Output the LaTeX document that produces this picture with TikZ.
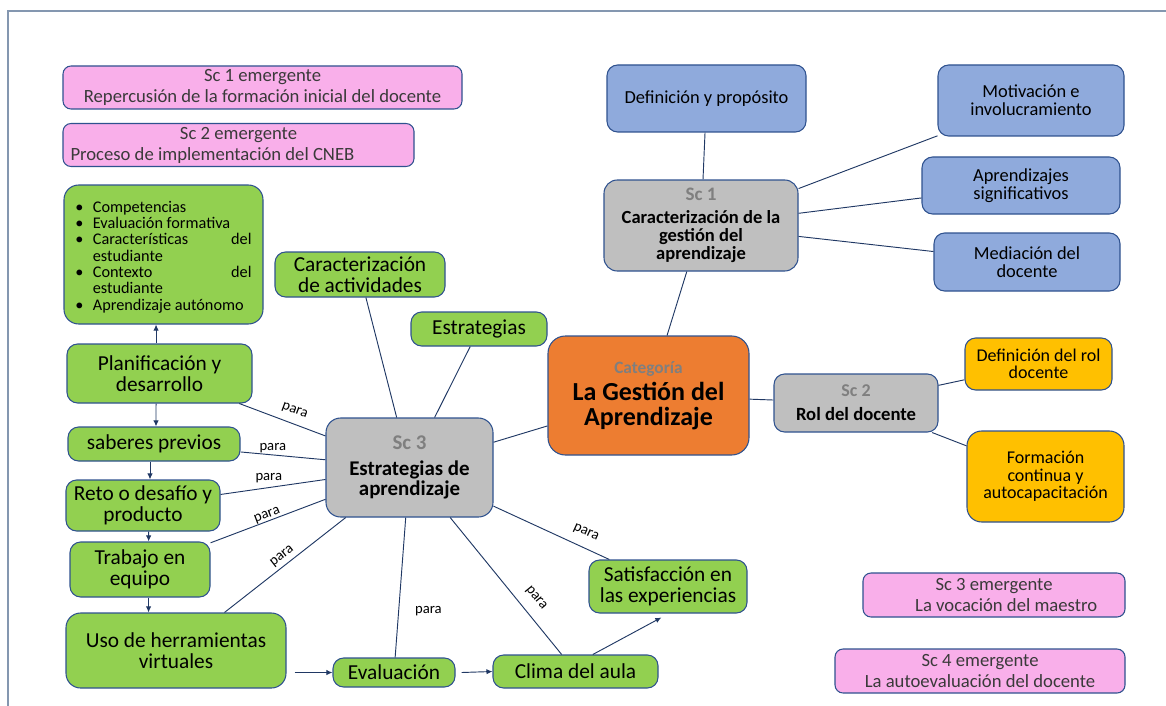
\documentclass[tikz,border=0pt]{standalone}
\usepackage{fontspec}
\setmainfont{Carlito}
\usepackage{enumitem}
\usetikzlibrary{arrows.meta}
\definecolor{boxline}{HTML}{2F528F}
\definecolor{linknavy}{HTML}{203864}
\definecolor{cgreen}{HTML}{92D050}
\definecolor{cblue}{HTML}{8FAADC}
\definecolor{cgray}{HTML}{BFBFBF}
\definecolor{corange}{HTML}{ED7D31}
\definecolor{cgold}{HTML}{FFC000}
\definecolor{cpink}{HTML}{F9AFEA}
\definecolor{sctext}{HTML}{7F7F7F}
\definecolor{pinktext}{HTML}{3A3A3A}
\definecolor{framecol}{HTML}{8497B0}

\begin{document}
\begin{tikzpicture}[x=0.75pt,y=-0.75pt,
mapbox/.style={draw=boxline,line width=0.8pt,rounded corners=8pt,inner sep=2pt,align=center},
sz/.style 2 args={minimum width=#1*0.75pt,minimum height=#2*0.75pt},
grnbox/.style={mapbox,fill=cgreen,font=\fontsize{16}{16}\selectfont},
bluebox/.style={mapbox,fill=cblue,font=\fontsize{13.8}{13.5}\selectfont},
goldbox/.style={mapbox,fill=cgold,font=\fontsize{13.5}{13.2}\selectfont},
pinkbox/.style={mapbox,fill=cpink,rounded corners=6pt,text=pinktext,font=\fontsize{14}{15.75}\selectfont},
graybox/.style={mapbox,fill=cgray},
link/.style={draw=linknavy,line width=0.7pt},
flow/.style={link,-{Latex[length=4.5pt,width=4pt]}},
paralbl/.style={font=\fontsize{11}{11}\selectfont,inner sep=1pt}]

\useasboundingbox (0,0) rectangle (1166,706);
\draw[framecol,line width=0.8pt] (8,706) |- (1166,11);

\node[pinkbox,sz={399}{43}] (sce1) at (262.5,87.5) {Sc 1 emergente\\Repercusión de la formación inicial del docente};
\node[pinkbox,sz={351}{43}] (sce2) at (238.5,145) {Sc 2 emergente\\\makebox[252pt][l]{Proceso de implementación del CNEB}};
\node[pinkbox,sz={262}{44}] (sce3) at (994,595) {Sc 3 emergente\\\hspace*{1.3em}La vocación del maestro};
\node[pinkbox,sz={290}{44}] (sce4) at (980,671) {Sc 4 emergente\\La autoevaluación del docente};

\node[grnbox,sz={199}{139},rounded corners=11pt,font=\fontsize{12.2}{12.2}\selectfont,text width=132pt,align=justify] (bul) at (163.5,254.5) {%
\begin{itemize}[leftmargin=13pt,labelsep=7pt,itemsep=0pt,topsep=0pt,parsep=0pt,partopsep=0pt]
\item Competencias
\item Evaluación formativa
\item Características del\linebreak estudiante
\item Contexto del\linebreak estudiante
\item Aprendizaje autónomo
\end{itemize}};

\node[grnbox,sz={185}{59}] (plan) at (159.5,373.5) {Planificación y\\desarrollo};
\node[grnbox,sz={172}{34}] (sab) at (154,444) {saberes previos};
\node[grnbox,sz={154}{51}] (reto) at (143,505.5) {Reto o desafío y\\producto};
\node[grnbox,sz={140}{55}] (trab) at (140,569.5) {Trabajo en\\equipo};
\node[grnbox,sz={220}{75},rounded corners=11pt] (uso) at (176,650.5) {Uso de herramientas\\virtuales};
\node[grnbox,sz={122}{29}] (eval) at (394,672.5) {Evaluación};
\node[grnbox,sz={165}{33}] (clima) at (575.5,671.5) {Clima del aula};
\node[grnbox,sz={158}{53}] (satis) at (668,586.5) {Satisfacción en\\las experiencias};
\node[grnbox,sz={170}{45}] (carac) at (360,274.5) {Caracterización\\de actividades};
\node[grnbox,sz={136}{34}] (estr) at (479,329) {Estrategias};

\node[graybox,sz={167}{99},rounded corners=11pt,font=\bfseries\fontsize{15.7}{15}\selectfont] (sc3) at (409.5,467.5) {{\color{sctext}Sc 3}\\[5pt]Estrategias de\\aprendizaje};
\node[mapbox,fill=corange,sz={201}{119},rounded corners=13pt,font=\bfseries\fontsize{19.5}{18.75}\selectfont] (cat) at (648.5,395.5) {{\fontsize{13}{13}\selectfont\color{sctext}Categoría}\\[1.5pt]La Gestión del\\Aprendizaje};
\node[graybox,sz={194}{91},rounded corners=10pt,font=\bfseries\fontsize{13.9}{13.5}\selectfont] (sc1) at (701,225.5) {{\fontsize{14.3}{14}\selectfont\color{sctext}Sc 1}\\[4pt]Caracterización de la\\gestión del\\aprendizaje};
\node[graybox,sz={164}{58},font=\bfseries\fontsize{14}{14}\selectfont] (sc2) at (856,403) {{\fontsize{13.5}{13.5}\selectfont\color{sctext}Sc 2}\\[4pt]Rol del docente};

\node[bluebox,sz={199}{67}] (defp) at (706.5,98.5) {Definición y propósito};
\node[bluebox,sz={186}{71}] (motiv) at (1031,100.5) {Motivación e\\involucramiento};
\node[bluebox,sz={198}{57}] (aprsig) at (1021,185.5) {Aprendizajes\\significativos};
\node[bluebox,sz={186}{58}] (medi) at (1027,262) {Mediación del\\docente};
\node[goldbox,sz={147}{52}] (defrol) at (1038.5,364) {Definición del rol\\docente};
\node[goldbox,sz={157}{91},rounded corners=11pt] (form) at (1045.5,476.5) {Formación\\continua y\\autocapacitación};

\draw[link] (sc1) -- (defp);
\draw[link] (sc1) -- (motiv);
\draw[link] (sc1) -- (aprsig);
\draw[link] (sc1) -- (medi);
\draw[link] (sc1) -- (cat);
\draw[link] (cat) -- (sc2);
\draw[link] (sc2) -- (defrol);
\draw[link] (sc2) -- (form);
\draw[link] (cat) -- (sc3);
\draw[link] (sc3) -- (carac);
\draw[link] (sc3) -- (estr);
\draw[link] (sc3) -- node[paralbl,pos=0.41,above=4.5pt,sloped]{para} (plan);
\draw[link] (sc3) -- node[paralbl,pos=0.62,above=0.5pt]{para} (sab);
\draw[link] (sc3) -- node[paralbl,pos=0.54,above=2.5pt]{para} (reto);
\draw[link] (sc3) -- node[paralbl,pos=0.49,above=-1pt,sloped]{para} (trab);
\draw[link] (sc3) -- node[paralbl,pos=0.48,above=1.5pt,sloped]{para} (uso);
\draw[link] (sc3) -- node[paralbl,pos=0.67,right=11pt]{para} (eval);
\draw[link] (sc3) -- node[paralbl,pos=0.66,above=7pt,sloped]{para} (clima);
\draw[link] (sc3) -- node[paralbl,pos=0.745,above=6pt,sloped]{para} (satis);

\draw[flow] ([xshift=-2.6pt]plan.north) -- ([xshift=-5.6pt]bul.south);
\draw[flow] ([xshift=-2.6pt]plan.south) -- ([xshift=1.5pt]sab.north);
\draw[flow] ([xshift=-3pt]sab.south) -- ([xshift=5.25pt]reto.north);
\draw[flow] ([xshift=4.2pt]reto.south) -- ([xshift=6.5pt]trab.north);
\draw[flow] ([xshift=6.4pt]trab.south) -- ([xshift=-20.6pt]uso.north);
\draw[flow] ([xshift=6pt,yshift=-16.5pt]uso.east) -- (eval.west);
\draw[flow] ([xshift=4.5pt]eval.east) -- (clima.west);
\draw[flow] ([xshift=13pt]clima.north) -- ([xshift=-5pt,yshift=-3pt]satis.south);
\end{tikzpicture}
\end{document}
